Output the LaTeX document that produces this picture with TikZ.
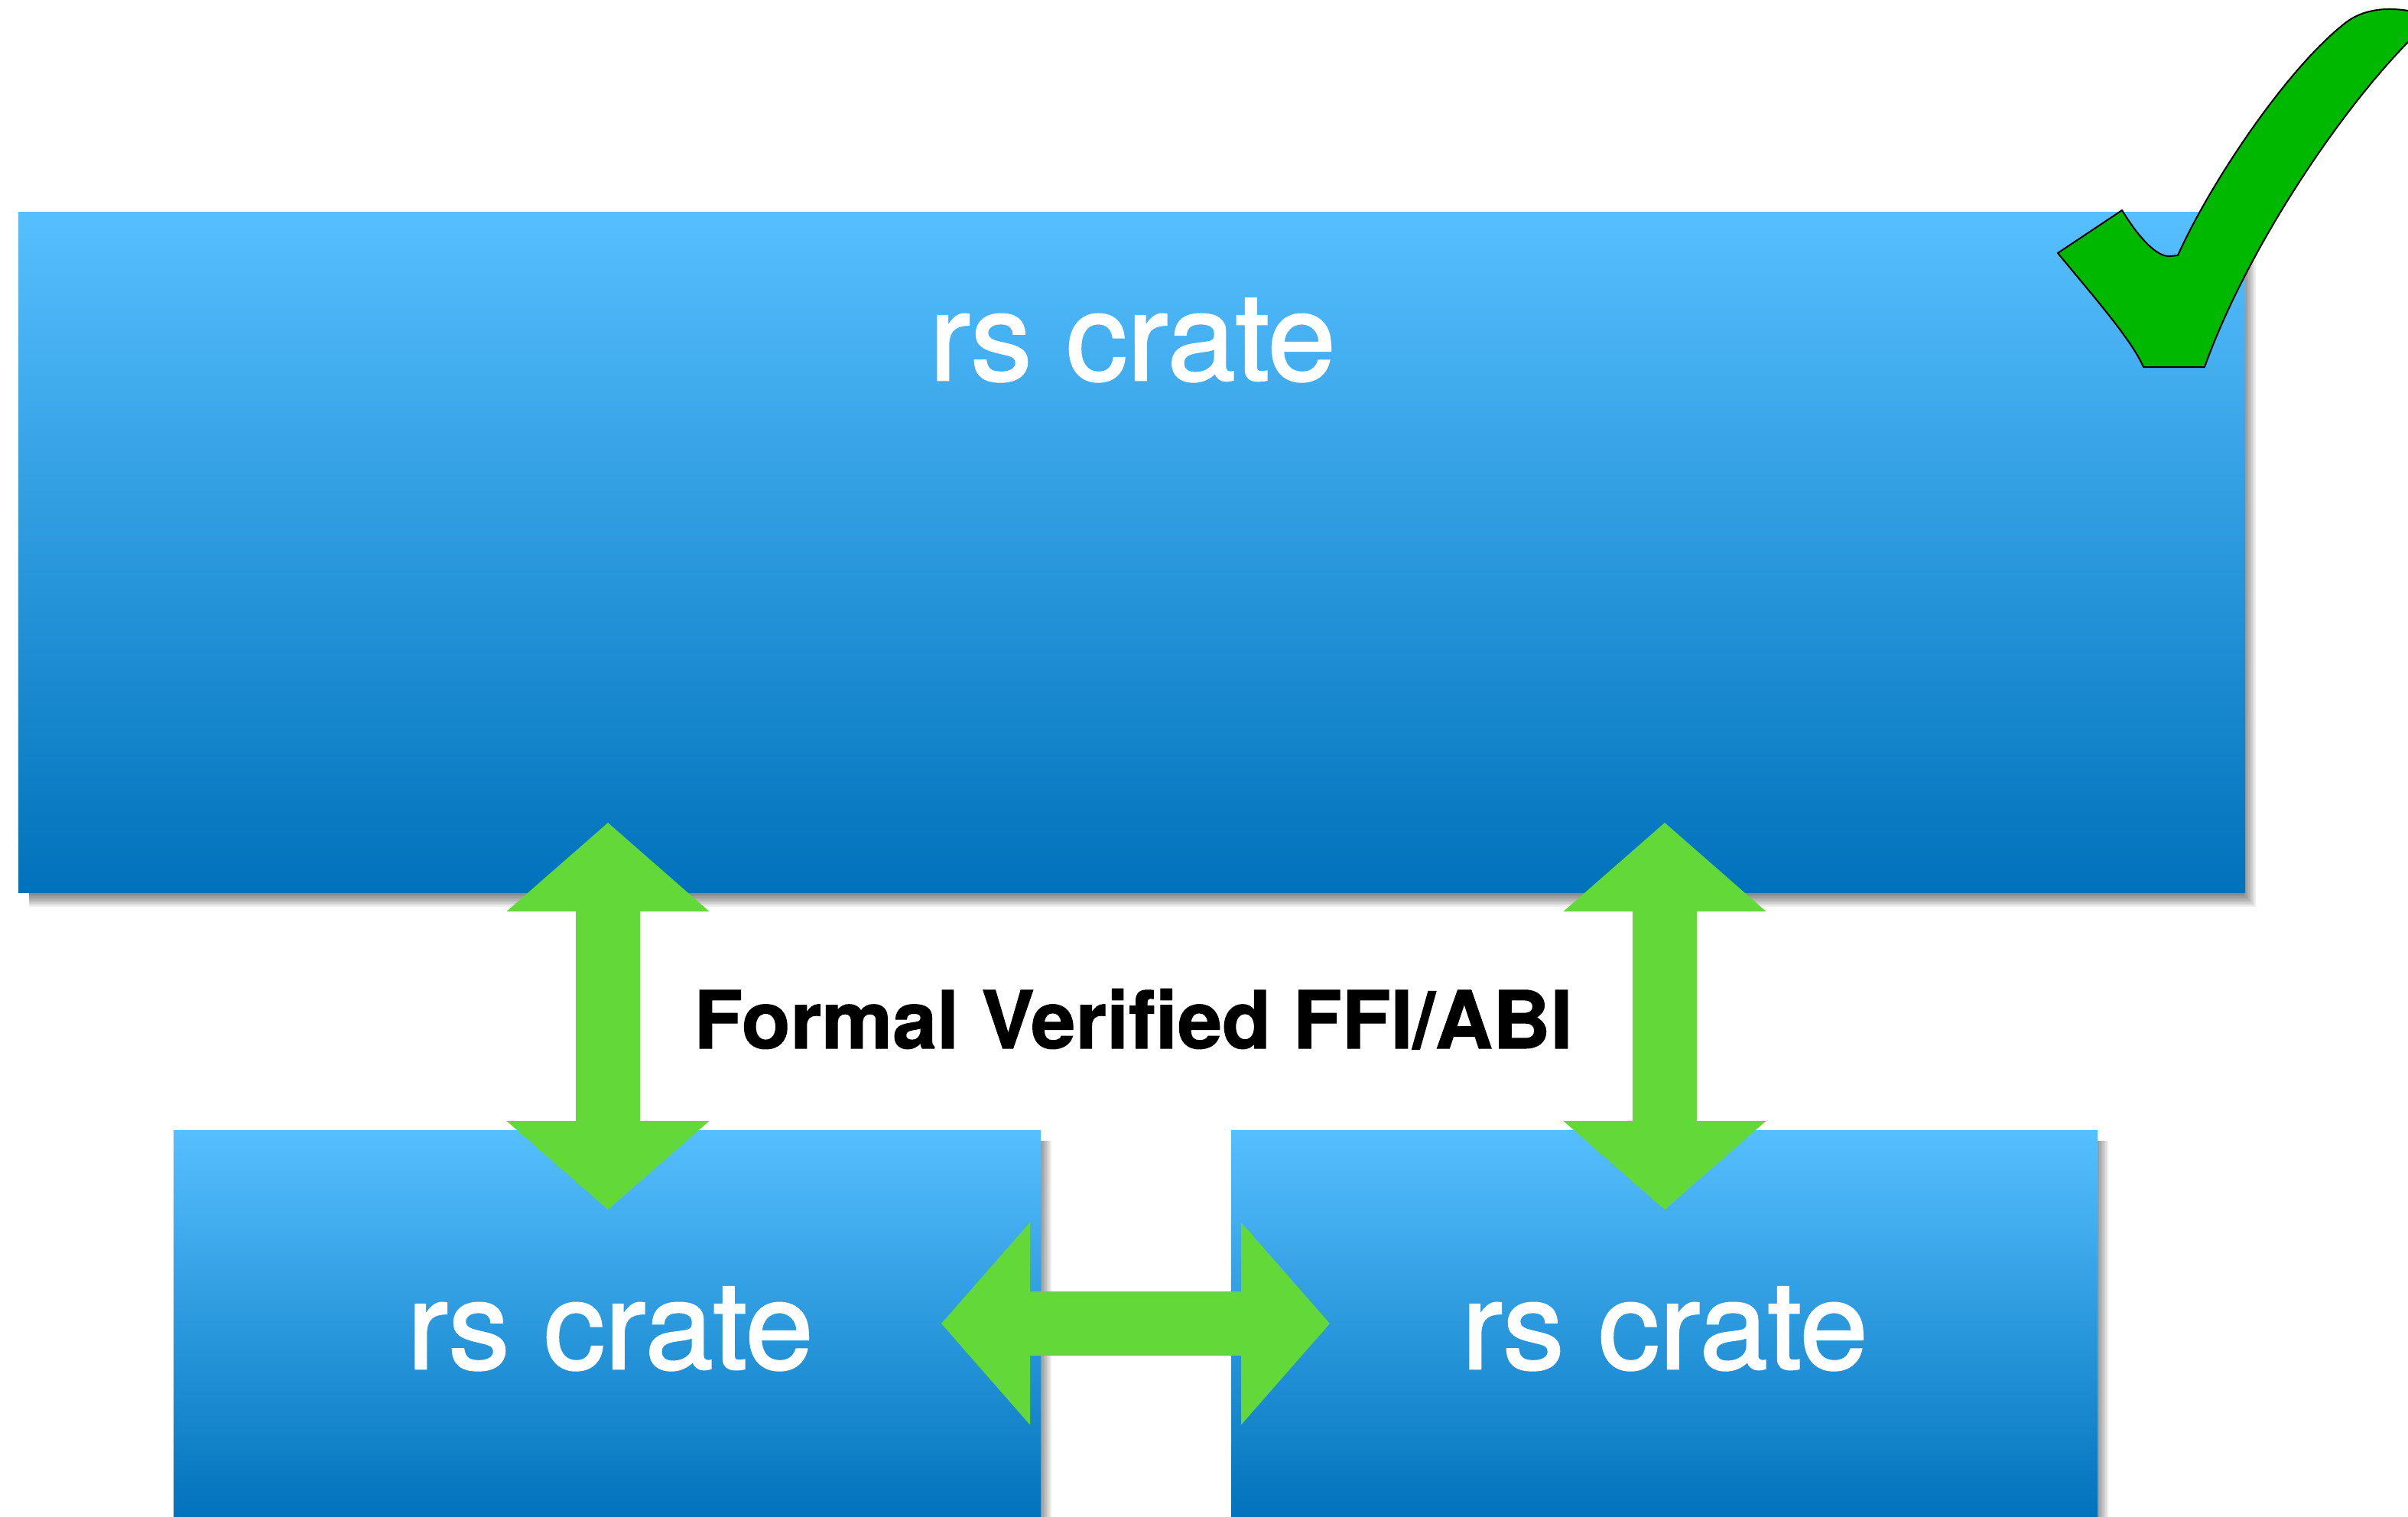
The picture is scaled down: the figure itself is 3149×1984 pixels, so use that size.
\documentclass[tikz,border=0pt]{standalone}
\usepackage{fontspec}
\setmainfont{TeX Gyre Heros}
\newfontfamily\cratefont{TeX Gyre Heros}[FakeBold=1.6]
\newfontfamily\ffifont{TeX Gyre Heros Bold}[FakeBold=1.0]
\usetikzlibrary{arrows.meta,calc}

\definecolor{boxtop}{RGB}{86,191,255}
\definecolor{boxbottom}{RGB}{0,114,187}
\definecolor{linkgreen}{RGB}{98,217,56}
\definecolor{tickgreen}{RGB}{0,184,0}

\tikzset{
  crate/.style={rectangle, inner sep=0pt, draw=none,
    top color=boxtop, bottom color=boxbottom},
  cratelabel/.style={text=white, anchor=base, inner sep=0pt,
    font=\cratefont\fontsize{160}{170}\selectfont},
  ffilabel/.style={text=black, anchor=base, inner sep=0pt,
    font=\ffifont\fontsize{104.5}{115}\selectfont},
  link/.style={draw=linkgreen, line width=84pt,
    {Triangle[width=265pt,length=116pt,line width=0pt]}-{Triangle[width=265pt,length=116pt,line width=0pt]}},
  tick/.style={fill=tickgreen, draw=black, line width=2pt, line join=round},
}

% soft drop shadow below and to the right of a box
\newcommand{\crateshadow}[1]{%
  \foreach \r in {-12,-10,...,12}{
    \fill[black, opacity=0.065]
      ($(#1.north west)+(14,14)$) rectangle ($(#1.south east)+(2+\r,7+\r)$);
  }%
}

\begin{document}
\begin{tikzpicture}[x=1pt,y=-1pt]
\useasboundingbox (0,0) rectangle (3149,1984);
\clip (0,0) rectangle (3149,1984);

% positions of the crates (shadows are placed from these)
\path (1480,722) coordinate (mainc) (794,1734) coordinate (leftc) (2176.5,1734) coordinate (rightc);
\node[minimum width=2912pt, minimum height=890pt, inner sep=0pt] (mainfr) at (mainc) {};
\node[minimum width=1134pt, minimum height=512pt, inner sep=0pt] (leftfr) at (leftc) {};
\node[minimum width=1133pt, minimum height=512pt, inner sep=0pt] (rightfr) at (rightc) {};
\crateshadow{mainfr}
\crateshadow{leftfr}
\crateshadow{rightfr}

% crates
\node[crate, minimum width=2912pt, minimum height=890pt] (main) at (mainc) {};
\node[crate, minimum width=1134pt, minimum height=512pt] (left) at (leftc) {};
\node[crate, minimum width=1133pt, minimum height=512pt] (right) at (rightc) {};

% labels
\node[cratelabel] (mainlabel) at (1481,497) {rs crate};
\node[cratelabel] (leftlabel) at (798,1790) {rs crate};
\node[cratelabel] (rightlabel) at (2177,1790) {rs crate};
\node[ffilabel] (ffi) at (1482,1371) {Formal Verified FFI/ABI};

% check mark
\draw[tick] (2691,331) -- (2775,275)
  .. controls (2795,308) and (2820,337) .. (2838,335) -- (2848,334)
  .. controls (2890,240) and (2990,90) .. (3067,30)
  .. controls (3095,8) and (3135,8) .. (3175,20) -- (3175,30)
  .. controls (3075,120) and (2940,320) .. (2883,480)
  -- (2803,480)
  .. controls (2788,445) and (2738,388) .. (2691,331) -- cycle;

% interface links
\coordinate (l1) at (795,1076);
\coordinate (l2) at (795,1582);
\coordinate (r1) at (2177,1076);
\coordinate (r2) at (2177,1582);
\coordinate (h1) at (1231,1731);
\coordinate (h2) at (1739,1731);
\draw[link] (l1) -- (l2);
\draw[link] (r1) -- (r2);
\draw[link] (h1) -- (h2);
\end{tikzpicture}
\end{document}
